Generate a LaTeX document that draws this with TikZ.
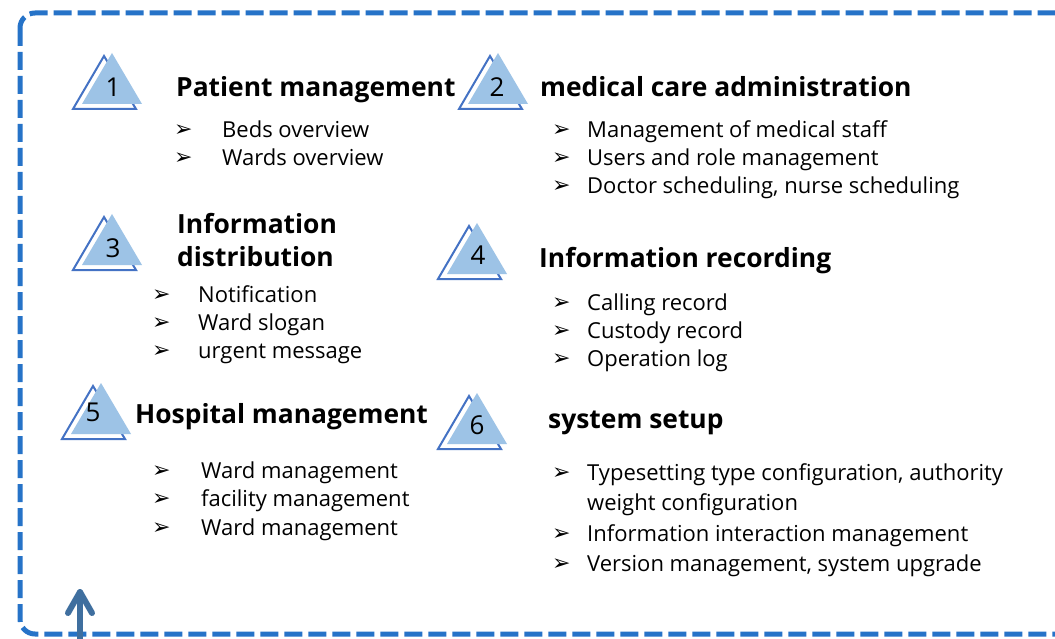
\documentclass[tikz,border=0pt]{standalone}
\usepackage{fontspec}
\setmainfont{Open Sans}
\newfontfamily\symfont{DejaVu Sans}
\usetikzlibrary{arrows.meta}
\definecolor{bordercol}{RGB}{38,115,200}
\definecolor{trifill}{RGB}{157,195,230}
\definecolor{triline}{RGB}{68,114,196}
\definecolor{arrcol}{RGB}{63,111,159}
\newcommand\mytri[3]{%
  \draw[tline] (#1-8,#2+3) -- (#1-39,#2+56) -- (#1+24,#2+56) -- cycle;
  \fill[tfill] (#1,#2) -- (#1-30,#2+51) -- (#1+30,#2+51) -- cycle;}
\begin{document}
\begin{tikzpicture}[x=1pt,y=-1pt,
  title/.style={anchor=base west,inner sep=0pt,font=\fontsize{26.4}{31}\selectfont\bfseries},
  item/.style={anchor=base west,inner sep=0pt,font=\fontsize{22}{26}\selectfont},
  bul/.style={anchor=base west,inner sep=0pt,font=\symfont\fontsize{22}{24}\selectfont},
  num/.style={inner sep=0pt,font=\fontsize{26}{30}\selectfont},
  tfill/.style={fill=trifill},
  tline/.style={draw=triline,line width=2pt,fill=white,line join=miter},
  frame/.style={draw=bordercol,line width=5pt,dash pattern=on 18pt off 6pt,rounded corners=15pt},
  arrline/.style={draw=arrcol,line width=6pt,line cap=round,line join=round}]
\useasboundingbox (0,0) rectangle (1055,639);
\fill[white] (0,0) rectangle (1055,639);
\draw[frame] (20,13) rectangle (1074,634);
\coordinate (a0) at (80,645);
\coordinate (a1) at (80,592);
\draw[arrline] (a0) -- (a1);
\draw[arrline] (a1) ++(-12,21) -- (a1) -- ++(12,21);

% triangles
\mytri{112}{53}{}
\mytri{498}{53}{}
\mytri{112}{214}{}
\mytri{477}{223}{}
\mytri{101}{383}{}
\mytri{477}{393}{}
\node[num] (n1) at (113,87) {1};
\node[num] (n2) at (497,87) {2};
\node[num] (n3) at (113,248) {3};
\node[num] (n4) at (478,255) {4};
\node[num] (n5) at (93,412) {5};
\node[num] (n6) at (477,425) {6};

% titles
\node[title] (t1) at (176,97) {Patient management};
\node[title] (t2) at (540,97) {medical care administration};
\node[title] (t3a) at (177,234) {Information};
\node[title] (t3b) at (177,266) {distribution};
\node[title] (t4) at (539,268) {Information recording};
\node[title] (t5) at (135,423) {Hospital management};
\node[title] (t6) at (548,428) {system setup};

% list 1
\node[bul] (b11) at (174,137) {➢}; \node[item] (i11) at (222,138) {Beds overview};
\node[bul] (b12) at (174,165) {➢}; \node[item] (i12) at (222,166) {Wards overview};
% list 2
\node[bul] (b21) at (552,137) {➢}; \node[item] (i21) at (587,138) {Management of medical staff};
\node[bul] (b22) at (552,165) {➢}; \node[item] (i22) at (587,166) {Users and role management};
\node[bul] (b23) at (552,193) {➢}; \node[item] (i23) at (587,194) {Doctor scheduling, nurse scheduling};
% list 3
\node[bul] (b31) at (152,301) {➢}; \node[item] (i31) at (198,302) {Notification};
\node[bul] (b32) at (152,329) {➢}; \node[item] (i32) at (198,330) {Ward slogan};
\node[bul] (b33) at (152,357) {➢}; \node[item] (i33) at (198,358) {urgent message};
% list 4
\node[bul] (b41) at (552,309) {➢}; \node[item] (i41) at (587,310) {Calling record};
\node[bul] (b42) at (552,337) {➢}; \node[item] (i42) at (587,338) {Custody record};
\node[bul] (b43) at (552,365) {➢}; \node[item] (i43) at (587,366) {Operation log};
% list 5
\node[bul] (b51) at (152,477) {➢}; \node[item] (i51) at (201,478) {Ward management};
\node[bul] (b52) at (152,505) {➢}; \node[item] (i52) at (201,506) {facility management};
\node[bul] (b53) at (152,534) {➢}; \node[item] (i53) at (201,535) {Ward management};
% list 6
\node[bul] (b61) at (552,479) {➢}; \node[item] (i61) at (587,480) {Typesetting type configuration, authority};
\node[item] (i62) at (587,510) {weight configuration};
\node[bul] (b63) at (552,540) {➢}; \node[item] (i63) at (587,541) {Information interaction management};
\node[bul] (b64) at (552,570) {➢}; \node[item] (i64) at (587,571) {Version management, system upgrade};
\end{tikzpicture}
\end{document}
